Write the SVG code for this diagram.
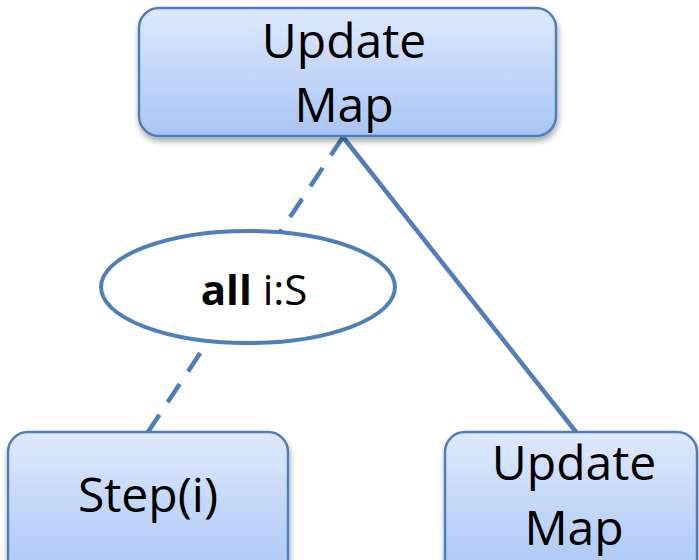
<svg xmlns="http://www.w3.org/2000/svg" width="699" height="560" viewBox="0 0 699 560">
  <defs>
    <linearGradient id="boxFill" x1="0" y1="0" x2="0" y2="1">
      <stop offset="0" stop-color="#dfe9fc"/>
      <stop offset="1" stop-color="#a9c5f6"/>
    </linearGradient>
    <filter id="shadow" x="-10%" y="-10%" width="125%" height="130%">
      <feGaussianBlur in="SourceAlpha" stdDeviation="3"/>
      <feOffset dx="1" dy="4" result="b"/>
      <feComponentTransfer><feFuncA type="linear" slope="0.35"/></feComponentTransfer>
      <feMerge><feMergeNode/><feMergeNode in="SourceGraphic"/></feMerge>
    </filter>
    <style>
      .box { fill: url(#boxFill); stroke: #4f7fbb; stroke-width: 2.5; filter: url(#shadow); }
      .label { font-family: "Open Sans", "Liberation Sans", sans-serif; font-size: 48px; fill: #000; text-anchor: middle; }
      .quant { font-family: "Open Sans", "Liberation Sans", sans-serif; font-size: 42px; fill: #000; text-anchor: middle; }
      .edge { stroke: #4f7fbb; stroke-width: 4.5; fill: none; }
      .dashed { stroke-dasharray: 22 15; }
    </style>
  </defs>

  <!-- connectors -->
  <g id="connectors">
    <line class="edge dashed" x1="343" y1="137" x2="148" y2="432"/>
    <line class="edge" x1="343" y1="137" x2="576" y2="432"/>
  </g>

  <!-- root node -->
  <g id="update-map-top">
    <rect class="box" x="139" y="8" width="417" height="128" rx="20" ry="20"/>
    <text class="label" x="344" y="58">Update</text>
    <text class="label" x="344" y="122">Map</text>
  </g>

  <!-- quantifier label -->
  <g id="all-i-s">
    <ellipse cx="248" cy="287" rx="147" ry="56" fill="#fff" stroke="#4f7fbb" stroke-width="4"/>
    <text class="quant" x="254" y="305"><tspan font-weight="bold">all</tspan> i:S</text>
  </g>

  <!-- child nodes -->
  <g id="step-i">
    <rect class="box" x="8" y="432" width="280" height="150" rx="20" ry="20"/>
    <text class="label" x="148" y="512">Step(i)</text>
  </g>

  <g id="update-map-bottom">
    <rect class="box" x="445" y="432" width="252" height="150" rx="20" ry="20"/>
    <text class="label" x="574" y="480">Update</text>
    <text class="label" x="574" y="545">Map</text>
  </g>
</svg>
